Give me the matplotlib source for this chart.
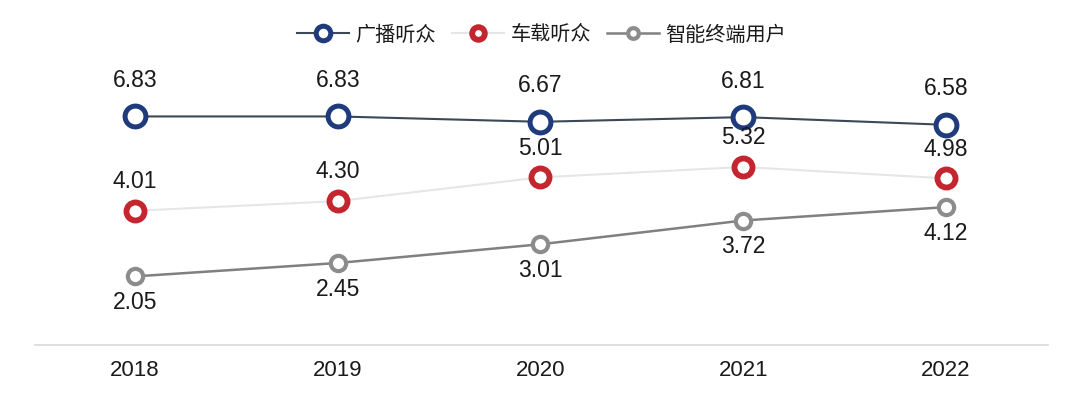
import matplotlib
matplotlib.use("Agg")
import matplotlib.pyplot as plt

plt.rcParams['font.family'] = ['Noto Sans CJK SC', 'DejaVu Sans']

years = ["2018", "2019", "2020", "2021", "2022"]
radio = [6.83, 6.83, 6.67, 6.81, 6.58]
car = [4.01, 4.30, 5.01, 5.32, 4.98]
smart = [2.05, 2.45, 3.01, 3.72, 4.12]
names = ["广播听众", "车载听众", "智能终端用户"]

NUM_FONT = ["Liberation Sans", "DejaVu Sans"]

fig = plt.figure(figsize=(10.8, 4.01), dpi=100)
ax = fig.add_axes([0.0324, 0.1397, 0.938, 0.8603])
x = list(range(len(years)))

ax.plot(x, radio, color="#3b4856", lw=1.5, marker="o", ms=15, mfc="white",
        mec="#1f3b7c", mew=3.6, label=names[0], zorder=3)
ax.plot(x, car, color="#e6e6e6", lw=1.5, marker="o", ms=13, mfc="white",
        mec="#c3262e", mew=4.2, label=names[1], zorder=2)
ax.plot(x, smart, color="#808080", lw=1.8, marker="o", ms=11, mfc="white",
        mec="#8c8c8c", mew=3, label=names[2], zorder=2)

for xi, v in zip(x, radio):
    ax.annotate(f"{v:.2f}", (xi, v), xytext=(0, 26), textcoords="offset points",
                ha="center", va="center", fontsize=16.5, color="#1a1a1a",
                family=NUM_FONT)
for xi, v in zip(x, car):
    ax.annotate(f"{v:.2f}", (xi, v), xytext=(0, 21), textcoords="offset points",
                ha="center", va="center", fontsize=16.5, color="#1a1a1a",
                family=NUM_FONT)
for xi, v in zip(x, smart):
    ax.annotate(f"{v:.2f}", (xi, v), xytext=(0, -19), textcoords="offset points",
                ha="center", va="center", fontsize=16.5, color="#1a1a1a",
                family=NUM_FONT)

ax.set_xlim(-0.493, 4.503)
ax.set_ylim(0, 10.31)
ax.set_xticks(x)
ax.set_xticklabels(years, fontsize=16, color="#1a1a1a", family=NUM_FONT)
ax.set_yticks([])
for s in ["top", "right", "left"]:
    ax.spines[s].set_visible(False)
ax.spines["bottom"].set_color("#d9d9d9")
ax.spines["bottom"].set_linewidth(1.2)
ax.tick_params(axis="x", length=0, pad=11)

leg = ax.legend(loc="center", bbox_to_anchor=(0.5, (401 - 35 - 56) / 345), ncol=3,
                frameon=False, fontsize=14.5, handlelength=2.6, handletextpad=0.3,
                columnspacing=0.8, markerscale=0.7)
for t in leg.get_texts():
    t.set_color("#1a1a1a")

fig.savefig("out.png", dpi=100)
